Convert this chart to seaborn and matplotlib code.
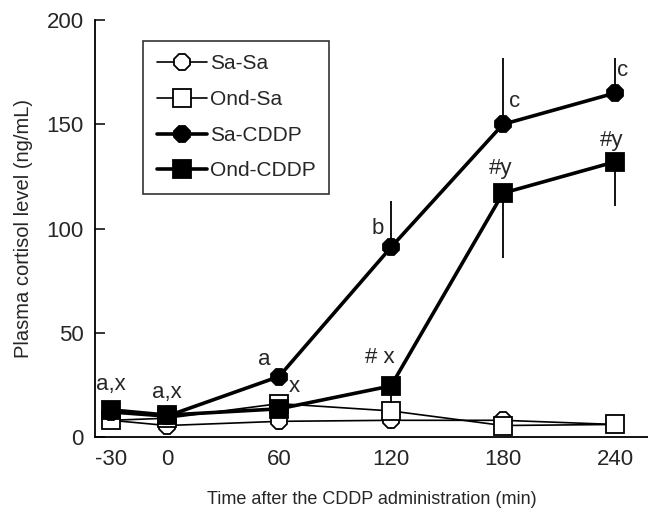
import matplotlib
matplotlib.use("Agg")
import matplotlib.pyplot as plt
import numpy as np
import seaborn as sns
import pandas as pd

# time points (min) relative to CDDP administration
time = [-30, 0, 60, 120, 180, 240]

# mean plasma cortisol (ng/mL)
sa_sa = [8, 5.5, 7.5, 8, 8, 6]
ond_sa = [8, 9, 16, 12.5, 5.5, 6]
sa_cddp = [12, 10, 29, 91, 150, 165]
ond_cddp = [13, 10.5, 13.5, 24.5, 117, 132]

# one-sided error bars (SE)
sa_sa_err = [3, 2, 4, 4, 1, 1]
ond_sa_err = [2, 1, 2, 2, 1, 2]
sa_cddp_err = [0, 0, 0, 22, 32, 17]
ond_cddp_err = [0, 0, 0, 8, 31, 21]

# significance labels: (text, x, y)
annotations = [
    ("a,x", -30, 25), ("a,x", 0, 21.5), ("a", 52, 37), ("x", 68, 24),
    ("b", 113, 100), ("# x", 114, 38), ("c", 186, 161), ("#y", 179, 129),
    ("c", 244, 176), ("#y", 238, 142),
]

groups = ["Sa-Sa", "Ond-Sa", "Sa-CDDP", "Ond-CDDP"]
data = pd.DataFrame({
    "time": time * 4,
    "cortisol": sa_sa + ond_sa + sa_cddp + ond_cddp,
    "err": sa_sa_err + ond_sa_err + sa_cddp_err + ond_cddp_err,
    "group": np.repeat(groups, len(time)),
})

# marker, face colour, line width, error direction (-1 down, +1 up)
styles = {
    "Sa-Sa": ("8", "white", 1.2, -1),
    "Ond-Sa": ("s", "white", 1.2, -1),
    "Sa-CDDP": ("8", "black", 2.6, 1),
    "Ond-CDDP": ("s", "black", 2.6, -1),
}

sns.set_style("ticks")
plt.rcParams["font.family"] = ["Liberation Sans", "DejaVu Sans"]
plt.rcParams["axes.unicode_minus"] = False

fig = plt.figure(figsize=(6.48, 5.15), dpi=100)
ax = fig.add_axes([0.1466, 0.1515, 0.8534, 0.8095])

for i, g in enumerate(groups):
    d = data[data["group"] == g]
    marker, face, lw, direction = styles[g]
    lower = d["err"].values if direction < 0 else np.zeros(len(d))
    upper = d["err"].values if direction > 0 else np.zeros(len(d))
    ax.errorbar(d["time"], d["cortisol"], yerr=[lower, upper], fmt="none",
                ecolor="black", elinewidth=1.3, capsize=0, zorder=2 + i)
    sns.lineplot(data=d, x="time", y="cortisol", ax=ax, color="black",
                 linewidth=lw, marker=marker, markersize=13,
                 markerfacecolor=face, markeredgecolor="black",
                 markeredgewidth=1.3, label=g, zorder=3 + i, errorbar=None)

for text, x, y in annotations:
    ax.text(x, y, text, ha="center", va="center", fontsize=16, zorder=10)

ax.set_xlim(-38.6, 257.7)
ax.set_ylim(0, 200)
ax.set_xticks(time)
ax.set_yticks([0, 50, 100, 150, 200])
ax.tick_params(axis="y", direction="in", length=7, width=1.3, labelsize=16, pad=8)
ax.tick_params(axis="x", length=0, labelsize=16, pad=9)
for s in ["left", "bottom"]:
    ax.spines[s].set_linewidth(1.3)
    ax.spines[s].set_color("black")
sns.despine(ax=ax)

ax.set_xlabel("Time after the CDDP administration (min)", fontsize=13, labelpad=15)
ax.set_ylabel("Plasma cortisol level (ng/mL)", fontsize=14.5, labelpad=10)

leg = ax.legend(loc="upper left", bbox_to_anchor=(0.087, 0.95), borderaxespad=0,
                fontsize=15, frameon=True, fancybox=False, edgecolor="black",
                handlelength=2.4, handletextpad=0.15, labelspacing=0.8,
                borderpad=0.65)
leg.get_frame().set_linewidth(1.2)

plt.savefig("out.png", dpi=100)
